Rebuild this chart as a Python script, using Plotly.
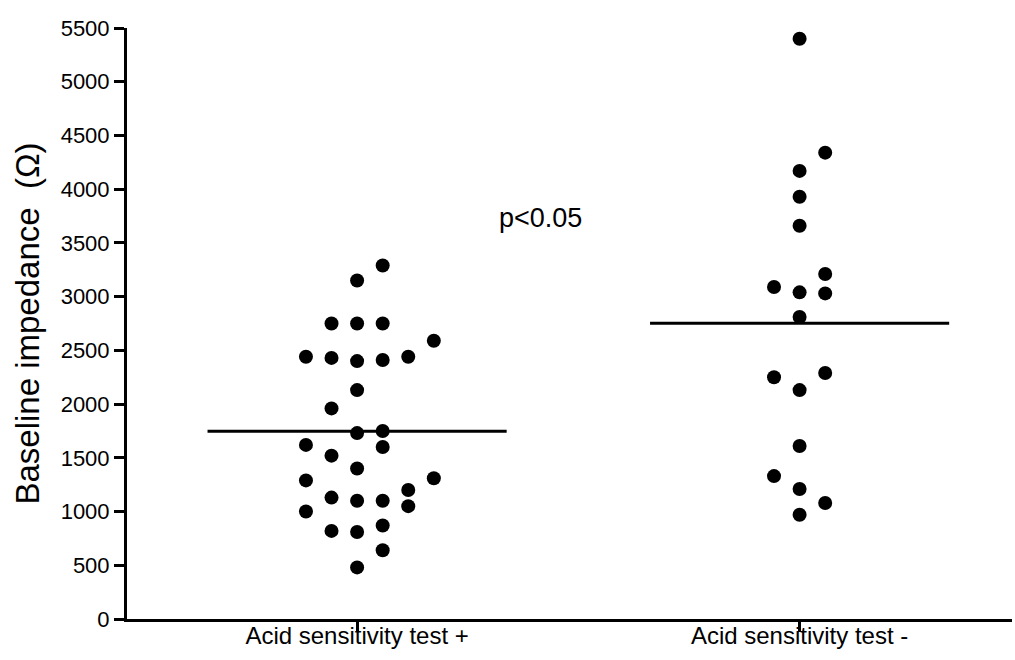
import plotly.graph_objects as go

categories = ["Acid sensitivity test +", "Acid sensitivity test -"]

# Group 1 (Acid sensitivity test +) values in ohm
g1_values = [3290, 3150, 2750, 2750, 2750, 2590, 2440, 2430, 2400, 2410, 2440,
             2130, 1960, 1730, 1750, 1620, 1600, 1520, 1400, 1290, 1310, 1200,
             1130, 1100, 1100, 1050, 1000, 820, 810, 870, 640, 480]
# horizontal scatter column of each point (dot-plot spreading)
g1_slot = [1, 0, -1, 0, 1, 3, -2, -1, 0, 1, 2,
           0, -1, 0, 1, -2, 1, -1, 0, -2, 3, 2,
           -1, 0, 1, 2, -2, -1, 0, 1, 1, 0]

# Group 2 (Acid sensitivity test -) values in ohm
g2_values = [5400, 4340, 4170, 3930, 3660, 3210, 3090, 3040, 3030, 2810,
             2250, 2290, 2130, 1610, 1330, 1210, 1080, 970]
g2_slot = [0, 1, 0, 0, 0, 1, -1, 0, 1, 0,
           -1, 1, 0, 0, -1, 0, 1, 0]

y_ticks = [0, 500, 1000, 1500, 2000, 2500, 3000, 3500, 4000, 4500, 5000, 5500]
annotation_text = "p<0.05"

slot_w = 0.0578
half_line = 0.338

fig = go.Figure()
groups = [(g1_values, g1_slot), (g2_values, g2_slot)]
for i, (vals, slots) in enumerate(groups):
    c = i + 1
    fig.add_trace(go.Scatter(
        x=[c + s * slot_w for s in slots], y=vals, mode="markers",
        marker=dict(size=14, color="black", line=dict(width=0)),
        showlegend=False, hoverinfo="y"))
    m = sum(vals) / len(vals)
    fig.add_trace(go.Scatter(
        x=[c - half_line, c + half_line], y=[m, m], mode="lines",
        line=dict(color="black", width=3), showlegend=False, hoverinfo="skip"))

fig.add_annotation(x=1.415, y=3730, text=annotation_text, showarrow=False,
                   font=dict(size=27, color="black"), xanchor="center", yanchor="middle")

fig.update_layout(
    width=1015, height=660,
    margin=dict(l=127, r=3, t=28, b=41),
    plot_bgcolor="white", paper_bgcolor="white",
    font=dict(family="Liberation Sans, Arial, sans-serif", color="black"),
)
fig.update_xaxes(
    range=[0.48, 2.48], tickmode="array", tickvals=[1, 2], ticktext=categories,
    showline=True, linecolor="black", linewidth=3, ticks="outside", ticklen=10,
    tickwidth=3, tickcolor="black", showgrid=False, zeroline=False,
    tickfont=dict(size=24), ticklabelstandoff=-17)
fig.update_yaxes(
    range=[0, 5500], tickmode="array", tickvals=y_ticks,
    showline=True, linecolor="black", linewidth=3, ticks="outside", ticklen=10,
    tickwidth=3, tickcolor="black", showgrid=False, zeroline=False,
    tickfont=dict(size=22),
    title=dict(text="Baseline impedance\u00a0\u00a0(\u03a9)", font=dict(size=33), standoff=12))

fig.write_html("out.html", config={"displayModeBar": False},
               post_script="document.body.style.margin='0';")
